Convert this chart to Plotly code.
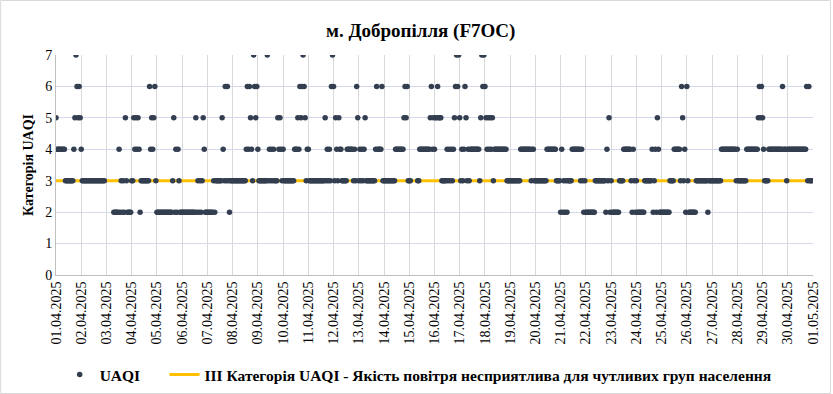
import pandas as pd
import plotly.graph_objects as go

title_text = "м. Добропілля (F7OC)"
y_title = "Категорія UAQI"
series_name = "UAQI"
threshold_name = "ІІІ Категорія UAQI - Якість повітря несприятлива для чутливих груп населення"

start_date = "2025-04-01 00:00"
end_date = "2025-05-01 00:00"

# Hourly UAQI category, one string per day (24 hours), '-' = no data
uaqi_by_day = [
    "544444 444333 333334 576565",  # 01.04
    "433333 333333 333333 33333-",  # 02.04
    "------ -22222 423232 532222",  # 03.04
    "335454 542333 333336 454563",  # 04.04
    "222222 222222 222352 424322",  # 05.04
    "222222 222222 252323 235422",  # 06.04
    "222222 323333 335436 363233",  # 07.04
    "333333 333333 346465 437656",  # 08.04
    "433333 333734 343433 354543",  # 09.04
    "433333 333334 445465 676534",  # 10.04
    "433333 333333 333353 434367",  # 11.04
    "635435 443333 344444 434365",  # 12.04
    "343434 533333 333346 444463",  # 13.04
    "333333 333334 444444 456563",  # 14.04
    "33---- --3344 444444 445645",  # 15.04
    "455655 533333 434343 456767",  # 16.04
    "534346 534344 444444 435767",  # 17.04
    "654545 453444 444444 444333",  # 18.04
    "333333 333344 444444 443443",  # 19.04
    "333333 333334 444444 443333",  # 20.04
    "242323 233334 444444 434323",  # 21.04
    "222222 222333 333333 324352",  # 22.04
    "322222 223333 444444 432432",  # 23.04
    "322222 223333 333423 425422",  # 24.04
    "222222 223333 444444 365342",  # 25.04
    "632222 222333 333333 332333",  # 26.04
    "333333 333444 444444 444443",  # 27.04
    "433333 333444 444444 445656",  # 28.04
    "543333 444444 444444 464443",  # 29.04
    "444444 444444 444444 636333",  # 30.04
]

threshold_levels = [3, 3]
y_ticks = [0, 1, 2, 3, 4, 5, 6, 7]

# ---- build data ----
values = []
for day in uaqi_by_day:
    s = day.replace(" ", "")
    assert len(s) == 24, day
    for ch in s:
        values.append(None if ch == "-" else int(ch))

times = pd.date_range(start_date, periods=len(values), freq="h")
tick_dates = pd.date_range(start_date, end_date, freq="D")
tick_text = [d.strftime("%d.%m.%Y") for d in tick_dates]

FONT = "Liberation Serif"
DOT = "#333F50"
GOLD = "#FFC000"
NB = "\u00a0"

fig = go.Figure()
fig.add_trace(go.Scatter(
    x=[times[0], pd.Timestamp(end_date)], y=threshold_levels,
    mode="lines", name=threshold_name,
    line=dict(color=GOLD, width=3), legendrank=2, hoverinfo="skip",
))
fig.add_trace(go.Scatter(
    x=times, y=values, mode="markers", name=series_name + NB * 5,
    marker=dict(color=DOT, size=5.5, line=dict(width=0)),
    legendrank=1,
))

L, R, T, B = 56, 18, 55, 119
W, H = 833, 394
pw, ph = W - L - R, H - T - B

fig.update_layout(
    width=W, height=H,
    margin=dict(l=L, r=R, t=T, b=B),
    paper_bgcolor="white", plot_bgcolor="white",
    font=dict(family=FONT, color="#000000", size=14),
    title=dict(text="<b>" + title_text + "</b>", x=0.505, xref="container", xanchor="center",
               y=1 - 30 / H, yref="container", yanchor="middle",
               font=dict(family=FONT, size=19, color="#000000")),
    showlegend=True,
    legend=dict(orientation="h", x=0.502, xanchor="center", xref="container",
                y=(H - 375) / H, yref="container", yanchor="middle",
                font=dict(family=FONT, size=15.5, color="#000000", weight="bold"),
                itemwidth=30, tracegroupgap=0),
    xaxis=dict(
        type="date",
        range=[pd.Timestamp(start_date), pd.Timestamp(end_date)],
        tickvals=list(tick_dates), ticktext=tick_text,
        tickangle=-90, tickfont=dict(family=FONT, size=14, color="#000000"),
        showgrid=True, gridcolor="#d9d9d9", gridwidth=1,
        showline=True, linecolor="#bfbfbf", linewidth=1,
        ticks="", zeroline=False,
    ),
    yaxis=dict(
        range=[0, 7], tickvals=y_ticks,
        tickfont=dict(family=FONT, size=14, color="#000000"),
        title=dict(text="<b>" + y_title + "</b>", font=dict(family=FONT, size=14, color="#000000"),
                   standoff=8),
        showgrid=True, gridcolor="#d3d8ec", gridwidth=1,
        showline=True, linecolor="#bfbfbf", linewidth=1,
        ticks="", zeroline=False,
    ),
    shapes=[dict(type="rect", xref="paper", yref="paper",
                 x0=(0.5 - L) / pw, x1=(W - 0.5 - L) / pw,
                 y0=-(H - 0.5 - (T + ph)) / ph, y1=(T + ph - 0.5) / ph,
                 line=dict(color="#d9d9d9", width=1), layer="below")],
)

fig.write_html(
    "out.html",
    config={"displayModeBar": False},
    post_script="document.body.style.margin='0';document.body.style.overflow='hidden';",
)
